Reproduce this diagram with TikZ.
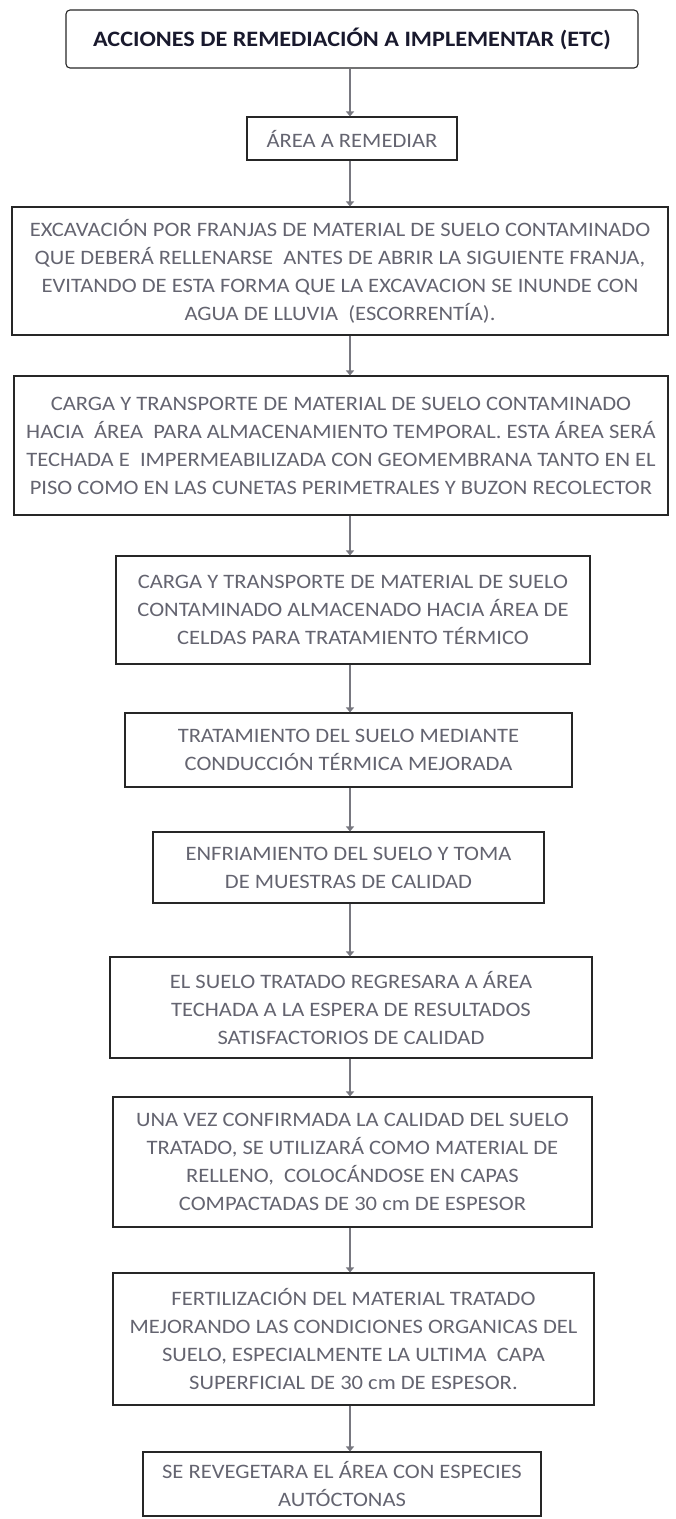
\documentclass[tikz,border=0pt]{standalone}
\usepackage{fontspec}
\setmainfont{Carlito}[FakeStretch=1.1]
\usetikzlibrary{arrows.meta}
\definecolor{boxtext}{RGB}{100,100,112}
\definecolor{titletext}{RGB}{25,25,45}
\definecolor{flecha}{RGB}{120,120,128}
\begin{document}
\begin{tikzpicture}[x=1pt,y=1pt,yscale=-1,
  paso/.style={draw=black!85,line width=1.1pt,rectangle,inner sep=0pt,align=center,
    text=boxtext,font=\fontsize{20.5}{28}\selectfont},
  titulo/.style={paso,rounded corners=4pt,text=titletext,font=\bfseries\fontsize{22}{28}\selectfont},
  flujo/.style={draw=flecha,line width=2.4pt,-{Triangle[length=5pt,width=8pt]}}]
%set diagram size to the reference
\useasboundingbox (0,0) rectangle (676,1519);
\coordinate (eje) at (350,0);

% Title Node
\node [titulo,minimum width=572,minimum height=58] (acciones) at (352,39) {ACCIONES DE REMEDIACIÓN A IMPLEMENTAR (ETC)};
% Text Node
\node [paso,minimum width=210,minimum height=43] (area) at (352,138.5) {ÁREA A REMEDIAR};
% Text Node
\node [paso,minimum width=656,minimum height=128] (excavacion) at (340,271) {EXCAVACIÓN POR FRANJAS DE MATERIAL DE SUELO CONTAMINADO\\QUE DEBERÁ RELLENARSE\ \ ANTES DE ABRIR LA SIGUIENTE FRANJA,\\EVITANDO DE ESTA FORMA QUE LA EXCAVACION SE INUNDE CON\\AGUA DE LLUVIA\ \ (ESCORRENTÍA).};
% Text Node
\node [paso,minimum width=654,minimum height=139] (carga) at (341,445.5) {CARGA Y TRANSPORTE DE MATERIAL DE SUELO CONTAMINADO\\HACIA\ \ ÁREA\ \ PARA ALMACENAMIENTO TEMPORAL. ESTA ÁREA SERÁ\\TECHADA E\ \ IMPERMEABILIZADA CON GEOMEMBRANA TANTO EN EL\\PISO COMO EN LAS CUNETAS PERIMETRALES Y BUZON RECOLECTOR};
% Text Node
\node [paso,minimum width=474,minimum height=108] (celdas) at (353,610) {CARGA Y TRANSPORTE DE MATERIAL DE SUELO\\CONTAMINADO ALMACENADO HACIA ÁREA DE\\CELDAS PARA TRATAMIENTO TÉRMICO};
% Text Node
\node [paso,minimum width=447,minimum height=74] (termico) at (348.5,750) {TRATAMIENTO DEL SUELO MEDIANTE\\CONDUCCIÓN TÉRMICA MEJORADA};
% Text Node
\node [paso,minimum width=391,minimum height=71] (enfriamiento) at (348.5,867.5) {ENFRIAMIENTO DEL SUELO Y TOMA\\DE MUESTRAS DE CALIDAD};
% Text Node
\node [paso,minimum width=482,minimum height=101] (regreso) at (351,1007.5) {EL SUELO TRATADO REGRESARA A ÁREA\\TECHADA A LA ESPERA DE RESULTADOS\\SATISFACTORIOS DE CALIDAD};
% Text Node
\node [paso,minimum width=479,minimum height=130] (relleno) at (352.5,1162) {UNA VEZ CONFIRMADA LA CALIDAD DEL SUELO\\TRATADO, SE UTILIZARÁ COMO MATERIAL DE\\RELLENO,\ \ COLOCÁNDOSE EN CAPAS\\COMPACTADAS DE 30 cm DE ESPESOR};
% Text Node
\node [paso,minimum width=481,minimum height=132] (fertilizacion) at (353.5,1339) {FERTILIZACIÓN DEL MATERIAL TRATADO\\MEJORANDO LAS CONDICIONES ORGANICAS DEL\\SUELO, ESPECIALMENTE LA ULTIMA\ \ CAPA\\SUPERFICIAL DE 30 cm DE ESPESOR.};
% Text Node
\node [paso,minimum width=398,minimum height=64] (revegetar) at (342,1484) {SE REVEGETARA EL ÁREA CON ESPECIES\\AUTÓCTONAS};

%Arrows
\draw [flujo] (acciones.south -| eje) -- (area.north -| eje);
\draw [flujo] (area.south -| eje) -- (excavacion.north -| eje);
\draw [flujo] (excavacion.south -| eje) -- (carga.north -| eje);
\draw [flujo] (carga.south -| eje) -- (celdas.north -| eje);
\draw [flujo] (celdas.south -| eje) -- (termico.north -| eje);
\draw [flujo] (termico.south -| eje) -- (enfriamiento.north -| eje);
\draw [flujo] (enfriamiento.south -| eje) -- (regreso.north -| eje);
\draw [flujo] (regreso.south -| eje) -- (relleno.north -| eje);
\draw [flujo] (relleno.south -| eje) -- (fertilizacion.north -| eje);
\draw [flujo] (fertilizacion.south -| eje) -- (revegetar.north -| eje);

\end{tikzpicture}
\end{document}
